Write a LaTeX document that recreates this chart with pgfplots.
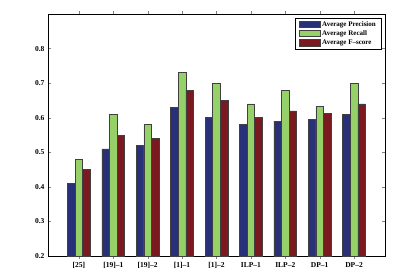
\documentclass[border=0pt]{standalone}
\usepackage{pgfplots}
\pgfplotsset{compat=1.18}
\usepackage{fontspec}
\setmainfont{Liberation Serif}
\definecolor{cP}{RGB}{40,48,122}
\definecolor{cR}{RGB}{150,208,104}
\definecolor{cF}{RGB}{122,26,32}
\begin{document}
\begin{tikzpicture}
\path[use as bounding box] (0pt,0pt) rectangle (410pt,271pt);
\begin{axis}[
  at={(48pt,15pt)}, anchor=south west,
  scale only axis, width=337pt, height=242pt,
  xmin=0.1, xmax=9.9, ymin=0.2, ymax=0.9,
  xtick={1,...,9},
  xticklabels={{[25]},{[19]--1},{[19]--2},{[1]--1},{[1]--2},{ILP--1},{ILP--2},{DP--1},{DP--2}},
  ytick={0.2,0.3,...,0.8},
  yticklabel style={/pgf/number format/.cd,fixed,fixed zerofill,precision=1},
  /pgf/number format/assume math mode=true,
  tick label style={font=\fontsize{7.5}{8}\selectfont\bfseries},
  tick align=inside, tick pos=both,
  major tick length=3pt,
  axis line style={black, line width=0.6pt},
  ybar=0pt, bar width=0.22,
  every axis plot/.append style={draw=black!75, line width=0.6pt},
  legend style={at={(0.99,0.985)}, anchor=north east, draw=black, line width=0.6pt,
    font=\fontsize{7}{8}\selectfont\bfseries, inner xsep=3.5pt, inner ysep=1.5pt, row sep=-1pt,
    cells={anchor=west}},
  legend image code/.code={\draw[#1] (0pt,-2.8pt) rectangle (21pt,3.5pt);},
]
\addplot[fill=cP] coordinates {(1,0.41) (2,0.51) (3,0.52) (4,0.63) (5,0.60) (6,0.58) (7,0.59) (8,0.595) (9,0.61)};
\addplot[fill=cR] coordinates {(1,0.48) (2,0.61) (3,0.58) (4,0.73) (5,0.70) (6,0.64) (7,0.68) (8,0.633) (9,0.70)};
\addplot[fill=cF] coordinates {(1,0.45) (2,0.55) (3,0.54) (4,0.68) (5,0.65) (6,0.60) (7,0.62) (8,0.612) (9,0.64)};
\legend{Average Precision, Average Recall, Average F--score}
\end{axis}
\end{tikzpicture}
\end{document}
